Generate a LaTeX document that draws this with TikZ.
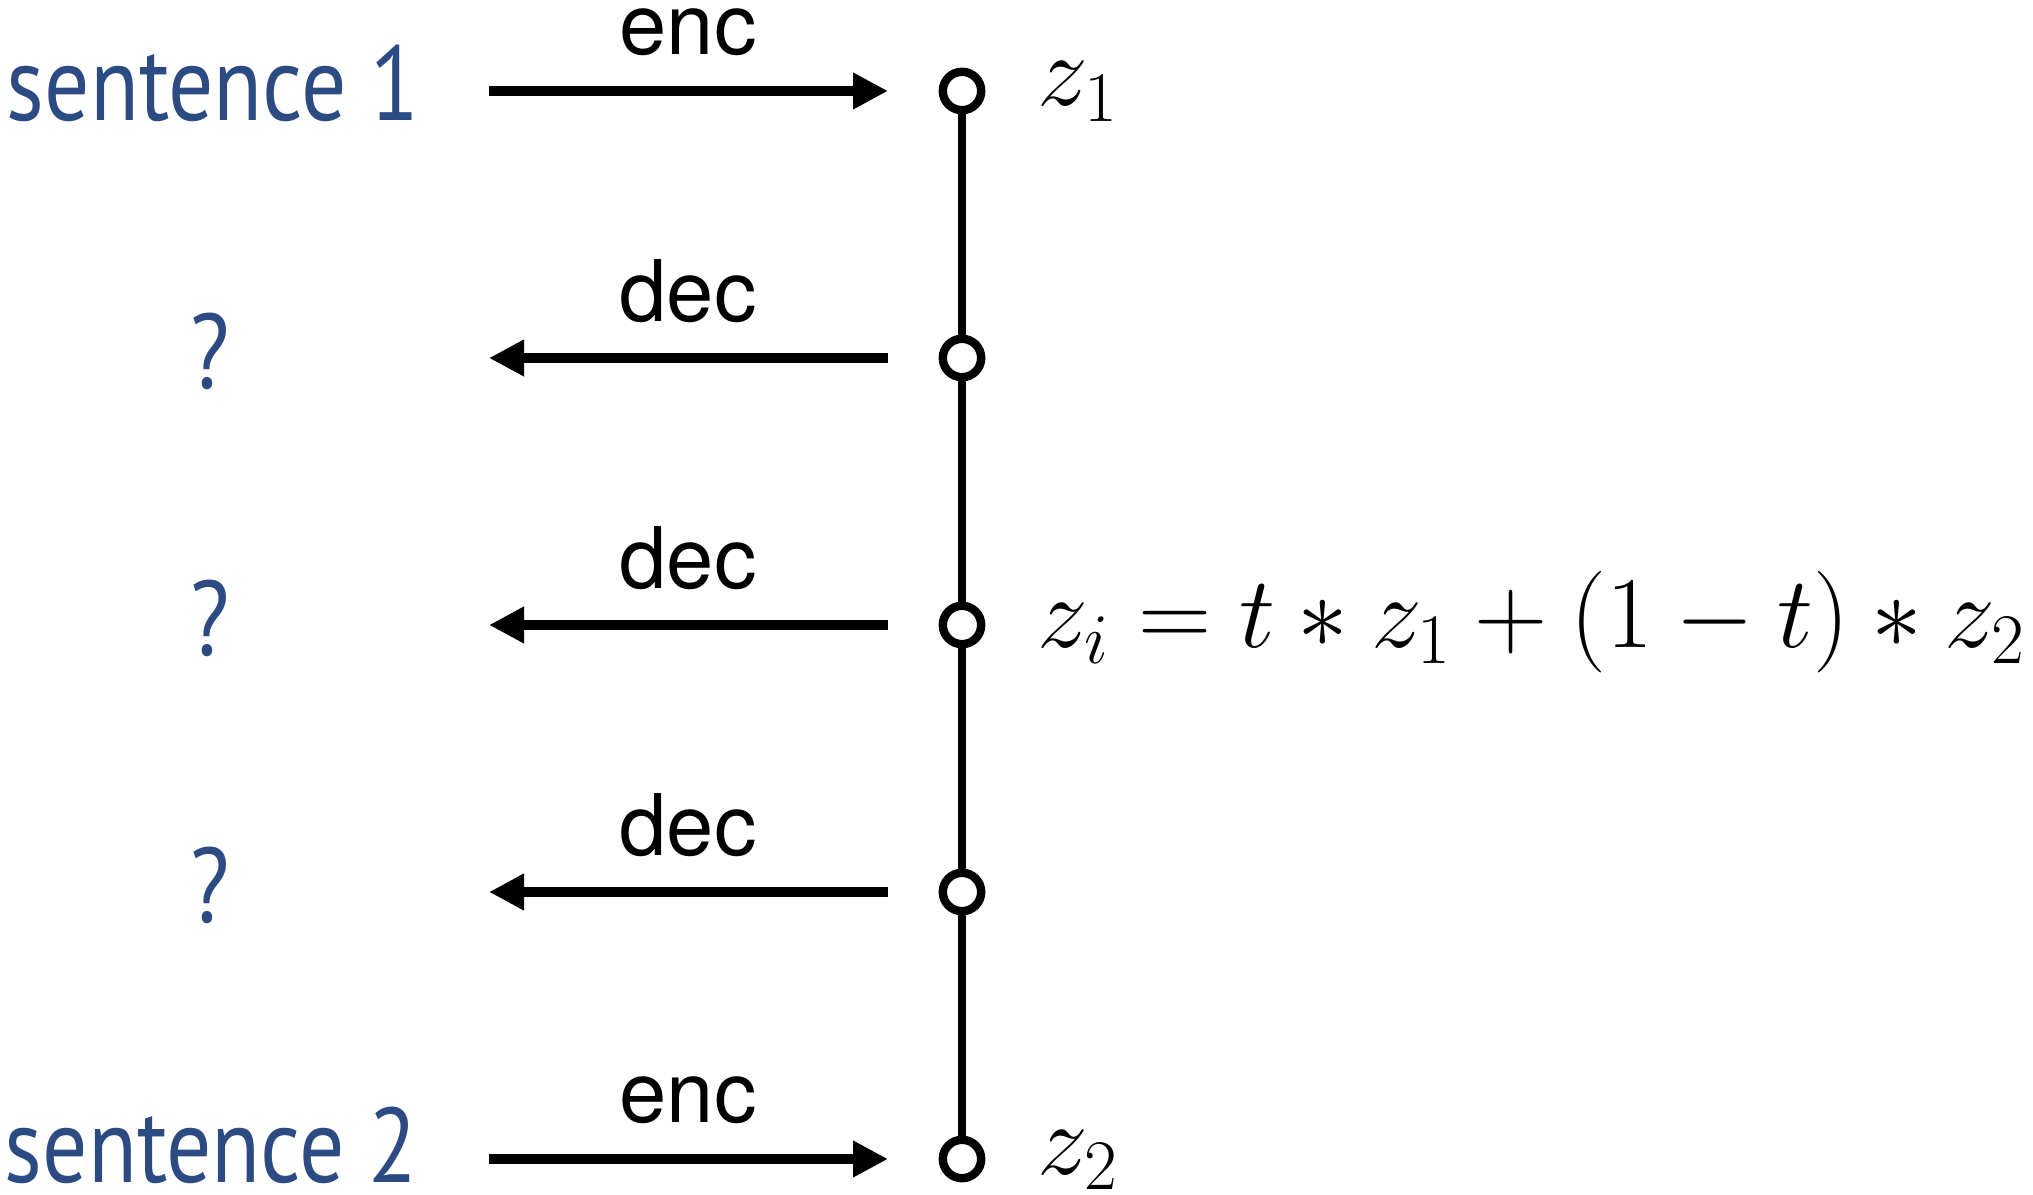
\RequirePackage{fix-cm}
\documentclass[tikz,border=0pt]{standalone}
\usepackage[no-math]{fontspec}
\usetikzlibrary{arrows.meta}
\newfontfamily\helvfont{TeX Gyre Heros}
\newfontfamily\sentfont{PT Sans}
\definecolor{sentblue}{RGB}{43,75,130}
\tikzset{
  dotnode/.style={circle, draw=black, fill=white, line width=2.1pt, minimum size=9.6pt, inner sep=0pt},
  vline/.style={line width=1.9pt},
  flow/.style={line width=2.3pt, -{Triangle[length=8.75pt,width=8.6pt]}},
  lab/.style={inner sep=0pt, anchor=base, font=\helvfont\fontsize{21.25}{25}\selectfont},
  sent/.style={inner sep=0pt, text=sentblue, font=\sentfont\fontsize{26.5}{30}\selectfont},
  mathlab/.style={inner sep=0pt, anchor=base west, font=\fontsize{25.4}{30}\selectfont},
}
\begin{document}
\begin{tikzpicture}[x=0.25pt,y=-0.25pt]
\useasboundingbox (0,0) rectangle (2033,1195);
% vertical line of latent points
\node[dotnode] (c1) at (962,91) {};
\node[dotnode] (c2) at (962,358) {};
\node[dotnode] (c3) at (962,625) {};
\node[dotnode] (c4) at (962,892) {};
\node[dotnode] (c5) at (962,1159) {};
\draw[vline] (c1) -- (c2) (c2) -- (c3) (c3) -- (c4) (c4) -- (c5);
% left texts
\node[sent, anchor=base west] (s1) at (6,121) {\scalebox{0.845}[1]{sentence 1}};
\node[sent, anchor=base west] (s2) at (4,1182) {\scalebox{0.845}[1]{sentence 2}};
\node[sent, anchor=base] (q1) at (210,389) {\scalebox{0.85}[1]{?}};
\node[sent, anchor=base] (q2) at (210,656) {\scalebox{0.85}[1]{?}};
\node[sent, anchor=base] (q3) at (210,923) {\scalebox{0.85}[1]{?}};
% arrow ends
\coordinate (a1l) at (489,91);   \coordinate (a1r) at (888,91);
\coordinate (a2l) at (489,358);  \coordinate (a2r) at (888,358);
\coordinate (a3l) at (489,625);  \coordinate (a3r) at (888,625);
\coordinate (a4l) at (489,892);  \coordinate (a4r) at (888,892);
\coordinate (a5l) at (489,1159); \coordinate (a5r) at (888,1159);
\draw[flow] (a1l) -- (a1r);
\draw[flow] (a2r) -- (a2l);
\draw[flow] (a3r) -- (a3l);
\draw[flow] (a4r) -- (a4l);
\draw[flow] (a5l) -- (a5r);
% arrow labels
\node[lab] (l1) at (688,55) {enc};
\node[lab] (l2) at (688,322) {dec};
\node[lab] (l3) at (688,589) {dec};
\node[lab] (l4) at (688,856) {dec};
\node[lab] (l5) at (688,1122) {enc};
% math labels
\node[mathlab] (m1) at (1037,106) {$z_1$};
\node[mathlab] (m3) at (1037,648) {$z_i = t * z_1 + (1-t) * z_2$};
\node[mathlab] (m5) at (1037,1174) {$z_2$};
\end{tikzpicture}
\end{document}
